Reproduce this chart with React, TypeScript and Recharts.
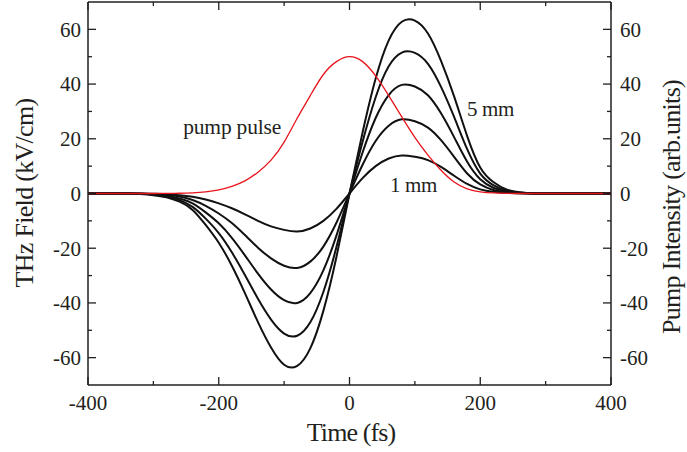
import React from "react";
import { LineChart, Line, XAxis, YAxis } from "recharts";

// time axis (fs)
const time = [
  -400, -380, -360, -340, -320, -300, -280, -260, -240, -220, -200, -180, -160, -140,
  -120, -100, -80, -60, -40, -20, 0, 20, 40, 60, 80, 100, 120, 140, 160, 180, 200,
  220, 240, 260, 280, 300, 320, 340, 360, 380, 400,
];

// THz field (kV/cm) for crystal thickness 1..5 mm
const field1mm = [
  0, 0, 0, 0, 0, -0.1, -0.25, -0.6, -1.2, -2.2, -3.6, -5.4, -7.6, -10.0, -12.0, -13.3,
  -13.9, -12.8, -10.0, -5.6, 0, 5.6, 10.0, 12.8, 13.9, 13.4, 12.2, 9.7, 6.5, 3.5, 1.5,
  0.6, 0.2, 0.1, 0, 0, 0, 0, 0, 0, 0,
];
const field2mm = [
  0, 0, 0, 0, -0.1, -0.2, -0.5, -1.1, -2.4, -4.5, -7.3, -10.8, -15.2, -19.8, -23.7,
  -26.4, -27.2, -24.9, -19.4, -10.7, 0, 10.5, 19.2, 24.8, 27.1, 26.4, 24.1, 19.5, 13.4,
  7.3, 3.3, 1.3, 0.4, 0.1, 0, 0, 0, 0, 0, 0, 0,
];
const field3mm = [
  0, 0, 0, 0, -0.1, -0.3, -0.8, -1.8, -3.6, -6.9, -10.9, -16.2, -22.6, -29.3, -35.1,
  -39.0, -40.0, -36.4, -28.1, -15.4, 0, 15.0, 27.6, 36.0, 39.7, 39.1, 35.9, 29.3, 20.6,
  11.6, 5.2, 2.1, 0.7, 0.2, 0, 0, 0, 0, 0, 0, 0,
];
const field4mm = [
  0, 0, 0, 0, -0.1, -0.4, -1.1, -2.4, -4.9, -9.2, -14.5, -21.5, -29.8, -38.5, -46.1,
  -51.2, -52.0, -47.1, -36.0, -19.6, 0, 18.9, 35.2, 46.5, 51.5, 51.4, 47.4, 39.0, 28.0,
  16.2, 7.3, 3.1, 1.1, 0.4, 0.1, 0, 0, 0, 0, 0, 0,
];
const field5mm = [
  0, 0, 0, 0, -0.2, -0.6, -1.4, -3.0, -6.0, -11.5, -18.0, -26.4, -36.4, -47.0, -56.3,
  -62.6, -63.0, -56.6, -42.9, -23.2, 0, 22.3, 42.0, 56.0, 62.8, 63.2, 58.5, 48.5, 35.5,
  21.0, 9.5, 4.2, 1.5, 0.5, 0.1, 0, 0, 0, 0, 0, 0,
];

// pump intensity (arb. units)
const pumpPulse = [
  0, 0, 0, 0, 0, 0, 0.05, 0.1, 0.25, 0.6, 1.3, 2.6, 4.6, 7.8, 12.2, 18.8, 27.5, 35.8,
  43.5, 48.2, 50, 48.2, 43, 35.8, 28, 20.5, 14, 8.5, 4.2, 1.7, 0.6, 0.2, 0.05, 0, 0, 0,
  0, 0, 0, 0, 0,
];

const xTicks = [-400, -300, -200, -100, 0, 100, 200, 300, 400];
const yTicks = [-60, -50, -40, -30, -20, -10, 0, 10, 20, 30, 40, 50, 60];

const data = time.map((t, i) => ({
  t,
  f1: field1mm[i],
  f2: field2mm[i],
  f3: field3mm[i],
  f4: field4mm[i],
  f5: field5mm[i],
  pump: pumpPulse[i],
}));

const FONT = "'Liberation Serif', 'Times New Roman', serif";
const INK = "#231f20";
const TICK_FONT = 21;
const TITLE_FONT = 26;

// ticks point inward; major ones carry the label
function LeftTick(props: any) {
  const { x, y, payload } = props;
  const v = payload.value;
  const major = v % 20 === 0;
  const ax = x + 7;
  return (
    <g>
      <line x1={ax} x2={ax + (major ? 8 : 4)} y1={y} y2={y} stroke={INK} strokeWidth={1.3} />
      {major && (
        <text x={x} y={y} dy="0.35em" textAnchor="end" fontFamily={FONT} fontSize={TICK_FONT} fill={INK}>
          {v}
        </text>
      )}
    </g>
  );
}

function RightTick(props: any) {
  const { x, y, payload } = props;
  const v = payload.value;
  const major = v % 20 === 0;
  const ax = x - 9;
  return (
    <g>
      <line x1={ax} x2={ax - (major ? 8 : 4)} y1={y} y2={y} stroke={INK} strokeWidth={1.3} />
      {major && (
        <text x={x} y={y} dy="0.35em" textAnchor="start" fontFamily={FONT} fontSize={TICK_FONT} fill={INK}>
          {v}
        </text>
      )}
    </g>
  );
}

function BottomTick(props: any) {
  const { x, y, payload } = props;
  const v = payload.value;
  const major = v % 200 === 0;
  const ay = y - 10;
  return (
    <g>
      <line x1={x} x2={x} y1={ay} y2={ay - (major ? 8 : 4)} stroke={INK} strokeWidth={1.3} />
      {major && (
        <text x={x} y={y} dy={15} textAnchor="middle" fontFamily={FONT} fontSize={TICK_FONT} fill={INK}>
          {v}
        </text>
      )}
    </g>
  );
}

function TopTick(props: any) {
  const { x, y, payload } = props;
  const major = payload.value % 200 === 0;
  const ay = y + 10;
  return <line x1={x} x2={x} y1={ay} y2={ay + (major ? 8 : 4)} stroke={INK} strokeWidth={1.3} />;
}

export default function App() {
  const frame = { stroke: INK, strokeWidth: 1.5 };
  return (
    <div style={{ position: "absolute", left: 0, top: 0, background: "#fff" }}>
      <LineChart width={687} height={452} data={data} margin={{ top: 1, right: 75, bottom: 66, left: 87 }}>
        <XAxis
          xAxisId="bottom"
          dataKey="t"
          type="number"
          domain={[-400, 400]}
          ticks={xTicks}
          interval={0}
          height={1}
          tickSize={0}
          tickMargin={10}
          tickLine={false}
          axisLine={frame}
          tick={<BottomTick />}
        />
        <XAxis
          xAxisId="top"
          orientation="top"
          dataKey="t"
          type="number"
          domain={[-400, 400]}
          ticks={xTicks}
          interval={0}
          height={1}
          tickSize={0}
          tickMargin={10}
          tickLine={false}
          axisLine={frame}
          tick={<TopTick />}
        />
        <YAxis
          yAxisId="left"
          type="number"
          domain={[-70, 70]}
          ticks={yTicks}
          interval={0}
          width={1}
          tickSize={0}
          tickMargin={7}
          tickLine={false}
          axisLine={frame}
          tick={<LeftTick />}
          allowDataOverflow
        />
        <YAxis
          yAxisId="right"
          orientation="right"
          type="number"
          domain={[-70, 70]}
          ticks={yTicks}
          interval={0}
          width={1}
          tickSize={0}
          tickMargin={9}
          tickLine={false}
          axisLine={frame}
          tick={<RightTick />}
          allowDataOverflow
        />
        {["f1", "f2", "f3", "f4", "f5"].map((k) => (
          <Line
            key={k}
            xAxisId="bottom"
            yAxisId="left"
            dataKey={k}
            type="natural"
            stroke="#111"
            strokeWidth={2}
            dot={false}
            activeDot={false}
            isAnimationActive={false}
          />
        ))}
        <Line
          xAxisId="top"
          yAxisId="right"
          dataKey="pump"
          type="natural"
          stroke="#e8141c"
          strokeWidth={1.3}
          dot={false}
          activeDot={false}
          isAnimationActive={false}
        />
        <text x={351} y={441} textAnchor="middle" fontFamily={FONT} fontSize={TITLE_FONT} fill={INK} letterSpacing={-0.9}>
          Time (fs)
        </text>
        <text
          transform="translate(33,193) rotate(-90)"
          textAnchor="middle"
          fontFamily={FONT}
          fontSize={TITLE_FONT}
          fill={INK}
          letterSpacing={-0.7}
        >
          THz Field (kV/cm)
        </text>
        <text
          transform="translate(680,207) rotate(-90)"
          textAnchor="middle"
          fontFamily={FONT}
          fontSize={TITLE_FONT}
          fill={INK}
          letterSpacing={-0.7}
        >
          Pump Intensity (arb.units)
        </text>
        <text x={281} y={134} textAnchor="end" fontFamily={FONT} fontSize={21.5} fill={INK} letterSpacing={-0.2}>
          pump pulse
        </text>
        <text x={467} y={116} fontFamily={FONT} fontSize={TICK_FONT} fill={INK} letterSpacing={-0.4}>
          5 mm
        </text>
        <text x={390} y={192} fontFamily={FONT} fontSize={TICK_FONT} fill={INK} letterSpacing={-0.4}>
          1 mm
        </text>
      </LineChart>
    </div>
  );
}
